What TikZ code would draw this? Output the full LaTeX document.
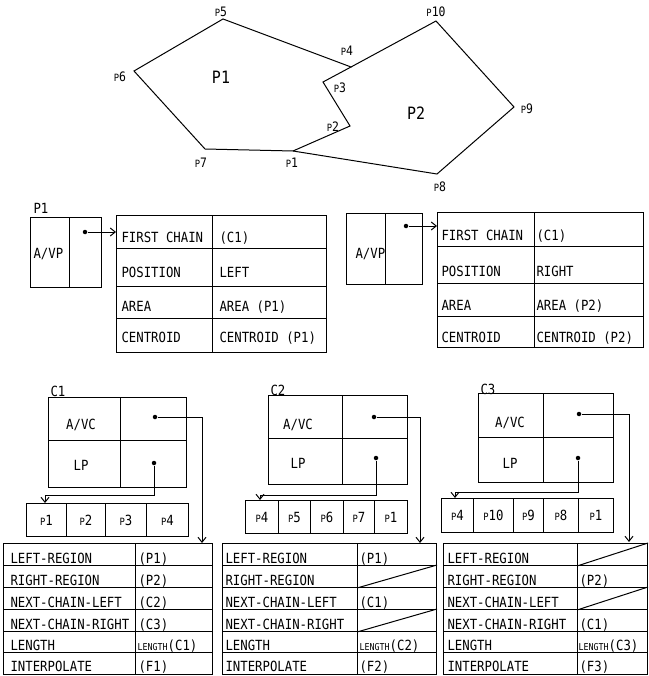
\documentclass[tikz,border=0pt]{standalone}
\usepackage{fontspec}
\newfontfamily\mono[FakeStretch=0.88]{DejaVu Sans Mono}
\usetikzlibrary{arrows.meta}
\newcommand\fs[1]{\fontsize{#1}{#1}\selectfont}
\newcommand\pn[1]{{\fs{10}P}#1}
\newcommand\bx[5]{\pgfmathsetmacro\bw{#4-#2}\pgfmathsetmacro\bh{#5-#3}%
  \node[box, minimum width=\bw pt, minimum height=\bh pt] (#1) at (#2,#3) {};}
\begin{document}
\begin{tikzpicture}[x=1pt,y=-1pt, line width=1pt,
  every node/.style={font=\mono\fs{14}, inner sep=0pt},
  box/.style={draw, rectangle, anchor=north west, inner sep=0pt},
  lbl/.style={anchor=base west},
  ctr/.style={anchor=center},
  vlbl/.style={anchor=center, font=\mono\fs{13}},
  dotn/.style={circle, fill, minimum size=4.5pt, inner sep=0pt},
  arr/.style={-{Straight Barb[length=5pt,width=8pt]}, line width=1pt}]
\useasboundingbox (0,0) rectangle (648,676);

% ---------- polygons ----------
\coordinate (v1) at (293,151);
\coordinate (v2) at (350,126);
\coordinate (v3) at (323,82);
\coordinate (v4) at (351,67);
\coordinate (v5) at (223,19);
\coordinate (v6) at (134,71);
\coordinate (v7) at (205,149);
\coordinate (v8) at (437,174);
\coordinate (v9) at (514,107);
\coordinate (v10) at (436,21);
\draw (v1) -- (v2) -- (v3) -- (v4) -- (v5) -- (v6) -- (v7) -- cycle;
\draw (v4) -- (v10) -- (v9) -- (v8) -- (v1);
\node[vlbl] (l5) at (221,12) {\pn{5}};
\node[vlbl] (l6) at (120,77) {\pn{6}};
\node[vlbl] (l7) at (201,163) {\pn{7}};
\node[vlbl] (l1) at (292,163) {\pn{1}};
\node[vlbl] (l2) at (333,127) {\pn{2}};
\node[vlbl] (l3) at (340,88) {\pn{3}};
\node[vlbl] (l4) at (347,51) {\pn{4}};
\node[vlbl] (l10) at (436,12) {\pn{10}};
\node[vlbl] (l9) at (527,109) {\pn{9}};
\node[vlbl] (l8) at (440,187) {\pn{8}};
\node[ctr, font=\mono\fs{17}] (r1) at (221,77) {P1};
\node[ctr, font=\mono\fs{17}] (r2) at (416,113) {P2};

% ---------- region P1 ----------
\node[lbl] (p1name) at (33,214) {P1};
\bx{p1a}{30}{217}{69}{287}
\bx{p1b}{69}{217}{101}{287}
\node[lbl] (p1t) at (33,258) {A/VP};
\node[dotn] (p1d) at (85,232) {};
\bx{t1a1}{116}{215}{212}{248} \bx{t1b1}{212}{215}{326}{248}
\bx{t1a2}{116}{248}{212}{286} \bx{t1b2}{212}{248}{326}{286}
\bx{t1a3}{116}{286}{212}{318} \bx{t1b3}{212}{286}{326}{318}
\bx{t1a4}{116}{318}{212}{352} \bx{t1b4}{212}{318}{326}{352}
\node[lbl] (t1l1) at (121,242) {FIRST CHAIN};
\node[lbl] (t1l2) at (121,277) {POSITION};
\node[lbl] (t1l3) at (121,311) {AREA};
\node[lbl] (t1l4) at (121,342) {CENTROID};
\node[lbl] (t1v1) at (219,242) {(C1)};
\node[lbl] (t1v2) at (219,277) {LEFT};
\node[lbl] (t1v3) at (219,311) {AREA (P1)};
\node[lbl] (t1v4) at (219,342) {CENTROID (P1)};
\draw[arr] (p1d) -- (p1d -| t1a1.west);

% ---------- region P2 ----------
\bx{p2a}{346}{213}{385}{284}
\bx{p2b}{385}{213}{422}{284}
\node[lbl] (p2t) at (355,258) {A/VP};
\node[dotn] (p2d) at (406,226) {};
\bx{t2a1}{437}{212}{534}{246} \bx{t2b1}{534}{212}{643}{246}
\bx{t2a2}{437}{246}{534}{283} \bx{t2b2}{534}{246}{643}{283}
\bx{t2a3}{437}{283}{534}{316} \bx{t2b3}{534}{283}{643}{316}
\bx{t2a4}{437}{316}{534}{347} \bx{t2b4}{534}{316}{643}{347}
\node[lbl] (t2l1) at (441,240) {FIRST CHAIN};
\node[lbl] (t2l2) at (441,276) {POSITION};
\node[lbl] (t2l3) at (441,310) {AREA};
\node[lbl] (t2l4) at (441,342) {CENTROID};
\node[lbl] (t2v1) at (536,240) {(C1)};
\node[lbl] (t2v2) at (536,276) {RIGHT};
\node[lbl] (t2v3) at (536,310) {AREA (P2)};
\node[lbl] (t2v4) at (536,342) {CENTROID (P2)};
\draw[arr] (p2d) -- (p2d -| t2a1.west);

% ---------- chain C1 ----------
\node[lbl] (c1name) at (50,396) {C1};
\bx{c1a}{48}{397}{120}{440} \bx{c1b}{120}{397}{186}{440}
\bx{c1c}{48}{440}{120}{487} \bx{c1d}{120}{440}{186}{487}
\node[ctr] (c1t1) at (81,425) {A/VC};
\node[ctr] (c1t2) at (81,465) {LP};
\node[dotn] (c1d1) at (155,417) {};
\node[dotn] (c1d2) at (154,463) {};
\bx{c1p1}{26}{503}{66}{536} \bx{c1p2}{66}{503}{105}{536}
\bx{c1p3}{105}{503}{146}{536} \bx{c1p4}{146}{503}{188}{536}
\node[ctr] at (c1p1) {\pn{1}};
\node[ctr] at (c1p2) {\pn{2}};
\node[ctr] at (c1p3) {\pn{3}};
\node[ctr] at (c1p4) {\pn{4}};
\foreach \r/\ya/\yb in {1/543/565,2/565/587,3/587/609,4/609/631,5/631/652,6/652/674}{
  \bx{c1r\r}{3}{\ya}{135}{\yb} \bx{c1v\r}{135}{\ya}{212}{\yb}
  \bx{c2r\r}{222}{\ya}{357}{\yb} \bx{c2v\r}{357}{\ya}{436}{\yb}
  \bx{c3r\r}{443}{\ya}{577}{\yb} \bx{c3v\r}{577}{\ya}{647}{\yb}
}
\coordinate (c1ta) at (202,543);
\coordinate (c1pa) at (45,503);
\draw[arr] (c1d1) -| (c1ta);
\draw[arr] (c1d2) |- ([yshift=8pt]c1pa) -- (c1pa);

% ---------- chain C2 ----------
\node[lbl] (c2name) at (270,395) {C2};
\bx{c2a}{268}{395}{342}{438} \bx{c2b}{342}{395}{407}{438}
\bx{c2c}{268}{438}{342}{484} \bx{c2d}{342}{438}{407}{484}
\node[ctr] (c2t1) at (298,425) {A/VC};
\node[ctr] (c2t2) at (298,463) {LP};
\node[dotn] (c2d1) at (374,417) {};
\node[dotn] (c2d2) at (376,458) {};
\bx{c2p1}{245}{500}{278}{533} \bx{c2p2}{278}{500}{310}{533}
\bx{c2p3}{310}{500}{343}{533} \bx{c2p4}{343}{500}{374}{533}
\bx{c2p5}{374}{500}{407}{533}
\node[ctr] at (c2p1) {\pn{4}};
\node[ctr] at (c2p2) {\pn{5}};
\node[ctr] at (c2p3) {\pn{6}};
\node[ctr] at (c2p4) {\pn{7}};
\node[ctr] at (c2p5) {\pn{1}};
\coordinate (c2ta) at (420,543);
\coordinate (c2pa) at (260,500);
\draw[arr] (c2d1) -| (c2ta);
\draw[arr] (c2d2) |- ([yshift=5pt]c2pa) -- (c2pa);

% ---------- chain C3 ----------
\node[lbl] (c3name) at (480,394) {C3};
\bx{c3a}{478}{393}{543}{437} \bx{c3b}{543}{393}{613}{437}
\bx{c3c}{478}{437}{543}{482} \bx{c3d}{543}{437}{613}{482}
\node[ctr] (c3t1) at (510,423) {A/VC};
\node[ctr] (c3t2) at (510,463) {LP};
\node[dotn] (c3d1) at (579,414) {};
\node[dotn] (c3d2) at (578,458) {};
\bx{c3p1}{441}{498}{473}{532} \bx{c3p2}{473}{498}{513}{532}
\bx{c3p3}{513}{498}{543}{532} \bx{c3p4}{543}{498}{578}{532}
\bx{c3p5}{578}{498}{613}{532}
\node[ctr] at (c3p1) {\pn{4}};
\node[ctr] at (c3p2) {\pn{10}};
\node[ctr] at (c3p3) {\pn{9}};
\node[ctr] at (c3p4) {\pn{8}};
\node[ctr] at (c3p5) {\pn{1}};
\coordinate (c3ta) at (629,542);
\coordinate (c3pa) at (455,498);
\draw[arr] (c3d1) -| (c3ta);
\draw[arr] (c3d2) |- ([yshift=6pt]c3pa) -- (c3pa);

% ---------- chain tables text ----------
\foreach \r/\yb/\t in {1/563/LEFT-REGION,2/585/RIGHT-REGION,3/607/NEXT-CHAIN-LEFT,4/629/NEXT-CHAIN-RIGHT,5/650/LENGTH,6/671/INTERPOLATE}{
  \node[lbl] (c1l\r) at (10,\yb) {\t};
  \node[lbl] (c2l\r) at (225,\yb) {\t};
  \node[lbl] (c3l\r) at (447,\yb) {\t};
}
\node[lbl] (c1w1) at (138,563) {(P1)};
\node[lbl] (c1w2) at (138,585) {(P2)};
\node[lbl] (c1w3) at (138,607) {(C2)};
\node[lbl] (c1w4) at (138,629) {(C3)};
\node[lbl] (c1w5) at (137,650) {{\fs{9.5}LENGTH}(C1)};
\node[lbl] (c1w6) at (138,671) {(F1)};

\node[lbl] (c2w1) at (359,563) {(P1)};
\draw (c2v2.south west) -- (c2v2.north east);
\node[lbl] (c2w3) at (359,607) {(C1)};
\draw (c2v4.south west) -- (c2v4.north east);
\node[lbl] (c2w5) at (359,650) {{\fs{9.5}LENGTH}(C2)};
\node[lbl] (c2w6) at (359,671) {(F2)};

\draw (c3v1.south west) -- (c3v1.north east);
\node[lbl] (c3w2) at (579,585) {(P2)};
\draw (c3v3.south west) -- (c3v3.north east);
\node[lbl] (c3w4) at (579,629) {(C1)};
\node[lbl] (c3w5) at (578,650) {{\fs{9.5}LENGTH}(C3)};
\node[lbl] (c3w6) at (579,671) {(F3)};
\end{tikzpicture}
\end{document}
